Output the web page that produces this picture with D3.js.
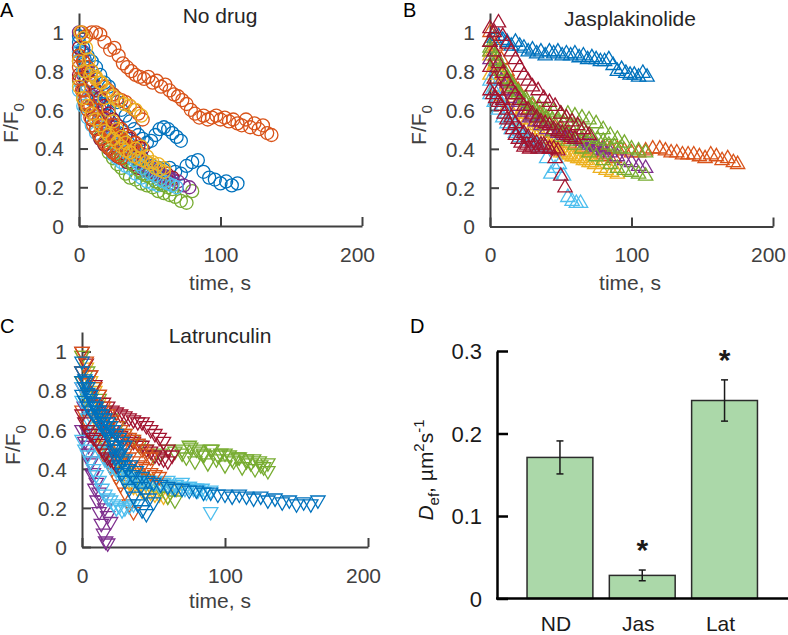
<!DOCTYPE html>
<html>
<head>
<meta charset="utf-8">
<script src="https://cdn.jsdelivr.net/npm/d3@7"></script>
<style>
body { margin: 0; background: #fff; }
text { font-family: "Liberation Sans", Arial, sans-serif; }
</style>
</head>
<body>
<script>
// matlab default line colours
var blue = "#0072BD", orange = "#D95319", yellow = "#EDB120", purple = "#7E2F8E",
    green = "#77AC30", ltblue = "#4DBEEE", red = "#A2142F";

var timeTicks = [0, 100, 200];
var ratioTicks = [0, 0.2, 0.4, 0.6, 0.8, 1];

// ---------- A : no drug ----------
var ndBlueT1 = [0,4,8,12,16,20,24,28,32,36,40,44,48,52,56,60,64,68,72,76,80,84,88,92,96,100,104,108,112];
var ndBlueV1 = [0.9,0.82,0.75,0.68,0.62,0.57,0.52,0.48,0.44,0.41,0.38,0.36,0.33,0.31,0.3,0.29,0.3,0.28,0.27,0.31,0.33,0.34,0.28,0.25,0.24,0.22,0.23,0.21,0.22];
var ndBlueT2 = [0,3,6,9,12,15,18,21,24,27,30,33,36,39,42,45,48,51,54,57,60,63,66,69,72];
var ndBlueV2 = [0.98,0.92,0.88,0.85,0.82,0.78,0.74,0.72,0.68,0.64,0.6,0.57,0.54,0.5,0.47,0.45,0.43,0.44,0.47,0.5,0.51,0.5,0.48,0.46,0.44];
var ndBlueT3 = [0,2,4,6,8,10,12,14,16,18,20,22,24,26,28,30,33,36,39,42,45,48,51,54,57,60];
var ndBlueV3 = [0.95,0.9,0.86,0.82,0.78,0.74,0.7,0.66,0.63,0.6,0.57,0.54,0.51,0.48,0.46,0.44,0.41,0.38,0.36,0.34,0.32,0.3,0.29,0.28,0.27,0.26];
var ndGreenT1 = [0,3,6,9,12,15,18,21,24,27,30,33,36,40,44,48,52,56,60,64,68,72,76,80];
var ndGreenV1 = [0.75,0.66,0.6,0.55,0.5,0.46,0.42,0.38,0.35,0.32,0.3,0.27,0.25,0.24,0.22,0.21,0.2,0.18,0.17,0.16,0.15,0.13,0.12,0.18];
var ndGreenT2 = [0,3,6,9,12,15,18,21,24,27,30,33,36,39,42,45,48,51,54,57,60,63,66];
var ndGreenV2 = [0.88,0.8,0.72,0.66,0.6,0.55,0.5,0.46,0.43,0.4,0.37,0.35,0.33,0.31,0.29,0.27,0.26,0.25,0.23,0.22,0.21,0.2,0.19];
var ndLtblueT1 = [0,3,6,9,12,15,18,21,24,27,30,33,36,40,44,48,52,56];
var ndLtblueV1 = [0.7,0.62,0.56,0.52,0.48,0.45,0.42,0.4,0.37,0.35,0.33,0.31,0.3,0.27,0.25,0.23,0.22,0.21];
var ndLtblueT2 = [0,3,6,9,12,15,18,21,24,27,30,33,36,39,42,45,48,51,54,57,60,63,66,69];
var ndLtblueV2 = [0.9,0.8,0.72,0.65,0.6,0.55,0.51,0.48,0.45,0.42,0.4,0.38,0.36,0.34,0.32,0.3,0.28,0.27,0.26,0.24,0.23,0.22,0.21,0.2];
var ndPurpleT1 = [0,3,6,9,12,15,18,21,24,27,30,34,38,42,46,50,54,58,62,66,70,74,78];
var ndPurpleV1 = [1.0,0.9,0.8,0.72,0.65,0.6,0.55,0.5,0.46,0.44,0.42,0.4,0.36,0.33,0.3,0.28,0.26,0.25,0.24,0.22,0.23,0.21,0.2];
var ndPurpleT2 = [0,3,6,9,12,15,18,21,24,27,30,33,36,39,42,45,48,51,54,57,60,63,66];
var ndPurpleV2 = [0.85,0.78,0.72,0.67,0.62,0.58,0.55,0.52,0.49,0.46,0.43,0.41,0.39,0.37,0.35,0.33,0.31,0.3,0.28,0.27,0.26,0.25,0.24];
var ndRedT1 = [0,3,6,9,12,15,18,21,24,27,30,34,38,42,46,50,54,58,62,66];
var ndRedV1 = [0.78,0.7,0.62,0.55,0.5,0.45,0.42,0.4,0.38,0.36,0.35,0.33,0.32,0.3,0.29,0.28,0.27,0.26,0.27,0.25];
var ndRedT2 = [0,3,6,9,12,15,18,21,24,27,30,33,36,39,42,45];
var ndRedV2 = [0.92,0.85,0.79,0.74,0.7,0.66,0.62,0.58,0.55,0.52,0.5,0.47,0.45,0.43,0.41,0.4];
var ndOrangeT1 = [2,5,9,12,15,18,22,25,28,31,34,37,40,43,46,49,52,55,58,61,64,67,70,73,76,79,82,85,88,91,94,97,100,103,106,109,112,115,118,121,124,127,130,133,136];
var ndOrangeV1 = [1.0,0.98,1.0,1.0,0.99,0.95,0.91,0.92,0.88,0.84,0.82,0.8,0.78,0.77,0.76,0.77,0.74,0.75,0.72,0.73,0.7,0.68,0.67,0.65,0.63,0.6,0.58,0.56,0.57,0.55,0.56,0.57,0.55,0.56,0.54,0.55,0.53,0.52,0.55,0.51,0.53,0.5,0.52,0.48,0.47];
var ndOrangeT2 = [0,2,4,6,8,10,12,14,16,18,20,22,24,26,28,30,32,34,36,38,40,42];
var ndOrangeV2 = [0.82,0.76,0.7,0.66,0.62,0.58,0.6,0.55,0.52,0.56,0.5,0.48,0.52,0.47,0.45,0.5,0.44,0.42,0.46,0.4,0.43,0.38];
var ndOrangeT3 = [0,3,6,9,12,15,18,21,24,27,30,33,36,39,42,45];
var ndOrangeV3 = [0.88,0.85,0.82,0.8,0.76,0.74,0.72,0.7,0.68,0.66,0.65,0.64,0.62,0.6,0.58,0.55];
var ndOrangeT4 = [0,2,4,6,8,10,12,14,16,18,20,22,24,26,28,30];
var ndOrangeV4 = [0.76,0.7,0.64,0.6,0.56,0.52,0.5,0.47,0.45,0.43,0.41,0.4,0.38,0.37,0.36,0.35];
var ndYellowT1 = [1,3,5,7,9,12,15,18,21,24,27,30,33,36,40,44,48,52,56,60];
var ndYellowV1 = [1.0,0.97,0.92,0.86,0.8,0.77,0.74,0.66,0.6,0.54,0.5,0.46,0.43,0.38,0.4,0.41,0.36,0.33,0.32,0.3];
var ndYellowT2 = [0,4,8,12,16,20,24,28,32,36,40,44];
var ndYellowV2 = [0.85,0.8,0.78,0.76,0.74,0.7,0.67,0.65,0.63,0.62,0.6,0.57];
var ndYellowT3 = [0,3,6,9,12,15,18,21,24,27,30,33,36,39,42,45,48,51,54,57,60];
var ndYellowV3 = [0.72,0.66,0.62,0.58,0.55,0.52,0.49,0.47,0.45,0.43,0.41,0.39,0.38,0.36,0.35,0.34,0.33,0.32,0.3,0.29,0.28];

// ---------- B : jasplakinolide ----------
var jasBlueT = [3,6,9,12,15,18,21,24,27,30,33,36,39,42,45,48,51,54,57,60,63,66,69,72,75,78,81,84,87,90,93,96,99,102,105,108,111];
var jasBlueV = [0.97,0.98,0.96,0.95,0.93,0.95,0.93,0.92,0.9,0.91,0.89,0.9,0.88,0.9,0.89,0.9,0.88,0.89,0.88,0.89,0.87,0.88,0.86,0.87,0.86,0.85,0.85,0.86,0.83,0.8,0.81,0.79,0.78,0.78,0.77,0.79,0.77];
var jasOrangeT1 = [0,4,8,12,16,20,25,30,35,40,45,50,55,60,65,70,75,80,85,90,95,100,105,110,115,120,124,128,132,136,140,144,148,152,156,160,164,168,172,175];
var jasOrangeV1 = [1.0,0.93,0.86,0.8,0.74,0.7,0.66,0.62,0.58,0.55,0.52,0.5,0.48,0.46,0.45,0.44,0.42,0.41,0.4,0.4,0.39,0.38,0.38,0.39,0.4,0.4,0.39,0.38,0.38,0.37,0.37,0.37,0.36,0.35,0.37,0.36,0.34,0.35,0.33,0.32];
var jasOrangeT2 = [0,4,8,12,16,20,24,28,32,36,40,44,48,52,56,60,64,68,72,76,80,84,88];
var jasOrangeV2 = [0.9,0.84,0.78,0.73,0.68,0.64,0.6,0.57,0.54,0.52,0.5,0.48,0.46,0.45,0.43,0.42,0.41,0.4,0.39,0.38,0.37,0.36,0.35];
var jasYellowT1 = [0,3,6,9,12,15,18,21,24,27,30,34,38,42,46,50,54,58,62,66,70,74,78,82,86,90];
var jasYellowV1 = [0.88,0.83,0.8,0.75,0.7,0.66,0.62,0.58,0.55,0.52,0.5,0.47,0.45,0.42,0.4,0.38,0.37,0.36,0.35,0.34,0.33,0.32,0.3,0.29,0.28,0.27];
var jasYellowT2 = [0,4,8,12,16,20,24,28,32,36,40,44,48,52,56,60,64,68,72];
var jasYellowV2 = [0.78,0.72,0.67,0.62,0.58,0.55,0.52,0.49,0.47,0.45,0.43,0.41,0.4,0.38,0.37,0.36,0.35,0.34,0.33];
var jasPurpleT1 = [0,4,8,12,16,20,25,30,35,40,45,50,55,60,65,70,75,80,85,90,95,100,105,110];
var jasPurpleV1 = [0.95,0.88,0.8,0.74,0.68,0.64,0.6,0.57,0.54,0.52,0.5,0.48,0.46,0.45,0.44,0.42,0.41,0.39,0.38,0.36,0.34,0.33,0.31,0.3];
var jasPurpleT2 = [0,4,8,12,16,20,24,28,32,36,40,44,48,52,56,60,64,68,72,76,80];
var jasPurpleV2 = [0.86,0.8,0.75,0.7,0.66,0.62,0.59,0.56,0.54,0.52,0.5,0.49,0.48,0.47,0.46,0.45,0.44,0.43,0.42,0.41,0.4];
var jasGreenT1 = [0,4,8,12,16,20,25,30,35,40,45,50,55,60,65,70,75,80,85,90,95,100,105,110];
var jasGreenV1 = [0.9,0.85,0.8,0.76,0.72,0.69,0.66,0.63,0.61,0.6,0.59,0.58,0.58,0.57,0.56,0.55,0.53,0.5,0.47,0.45,0.43,0.4,0.39,0.38];
var jasGreenT2 = [0,5,10,15,20,25,30,35,40,45,50,55,60,65,70,75,80,85,90,95,100,105,110];
var jasGreenV2 = [0.92,0.86,0.8,0.74,0.69,0.64,0.6,0.56,0.52,0.49,0.46,0.44,0.42,0.4,0.38,0.36,0.34,0.32,0.3,0.29,0.28,0.27,0.26];
var jasGreenT3 = [0,4,8,12,16,20,24,28,32,36,40,44,48,52,56,60,64,68,72,76,80,84,88,92];
var jasGreenV3 = [0.95,0.88,0.82,0.76,0.72,0.68,0.65,0.62,0.6,0.58,0.56,0.55,0.54,0.53,0.52,0.5,0.49,0.48,0.46,0.45,0.44,0.42,0.41,0.4];
var jasLtblueT1 = [0,3,6,9,12,15,18,21,24,27,30,33,36,40,43,46,49,52,55,58,61,64];
var jasLtblueV1 = [0.75,0.7,0.66,0.62,0.58,0.55,0.52,0.49,0.47,0.45,0.43,0.41,0.4,0.35,0.27,0.3,0.32,0.26,0.15,0.13,0.12,0.12];
var jasLtblueT2 = [0,3,6,9,12,15,18,21,24,27,30,33,36,39];
var jasLtblueV2 = [0.68,0.64,0.6,0.56,0.53,0.5,0.48,0.46,0.45,0.44,0.43,0.42,0.42,0.41];
var jasRedT1 = [0,3,6,9,12,15,18,21,24,27,30,34,38,42,46,50,54,58,62,66,70];
var jasRedV1 = [1.02,1.0,1.05,0.98,0.94,0.9,0.86,0.82,0.78,0.75,0.72,0.7,0.66,0.64,0.62,0.58,0.56,0.54,0.52,0.5,0.47];
var jasRedT2 = [0,2,4,6,8,10,12,14,16,18,20,22,24,26,28,30,34,38,42,46,50,53];
var jasRedV2 = [0.7,0.68,0.66,0.64,0.62,0.58,0.55,0.52,0.5,0.47,0.45,0.43,0.41,0.42,0.4,0.41,0.4,0.42,0.4,0.35,0.26,0.2];
var jasRedT3 = [0,3,6,9,12,15,18,21,24,27,30,33,36,39,42,45,48,51,54,57,60];
var jasRedV3 = [0.95,0.9,0.84,0.79,0.75,0.71,0.68,0.65,0.62,0.6,0.58,0.56,0.54,0.53,0.52,0.5,0.49,0.48,0.47,0.46,0.45];
var jasRedT4 = [0,3,6,9,12,15,18,21,24,27,30,33,36,39,42,45,48];
var jasRedV4 = [0.82,0.76,0.7,0.65,0.6,0.56,0.53,0.5,0.48,0.46,0.44,0.43,0.42,0.41,0.4,0.4,0.39];

// ---------- C : latrunculin ----------
var latBlueT1 = [0,3,6,9,12,15,18,21,24,27,30,34,38,42,46,50,55,60,65,70,75,80,85,90,95,100,105,110,115,120,125,130,135,140,145,150,155,160,165];
var latBlueV1 = [0.95,0.85,0.78,0.72,0.68,0.64,0.6,0.56,0.52,0.48,0.45,0.42,0.39,0.36,0.34,0.33,0.32,0.31,0.3,0.3,0.29,0.29,0.28,0.28,0.27,0.27,0.26,0.27,0.26,0.25,0.26,0.24,0.25,0.23,0.24,0.22,0.23,0.22,0.24];
var latBlueT2 = [0,2,4,6,8,10,12,14,16,18,20,22,24,26,28,30,33,36,39,42,45];
var latBlueV2 = [0.9,0.86,0.82,0.78,0.74,0.7,0.68,0.66,0.62,0.58,0.55,0.5,0.46,0.42,0.38,0.34,0.3,0.26,0.22,0.19,0.17];
var latBlueT3 = [0,2,4,6,8,10,12,14,16,18,20,22,24,26,28,30];
var latBlueV3 = [0.85,0.82,0.79,0.76,0.74,0.72,0.7,0.68,0.66,0.64,0.62,0.6,0.58,0.56,0.54,0.52];
var latBlueT4 = [0,2,4,6,8,10,12,14,16,18,20,22,24,26,28,30,32,35,38,41,44,47,50];
var latBlueV4 = [0.78,0.75,0.72,0.7,0.68,0.66,0.64,0.62,0.6,0.58,0.55,0.52,0.5,0.47,0.44,0.42,0.4,0.37,0.34,0.31,0.28,0.25,0.23];
var latOrangeT1 = [0,3,6,9,12,15,18,21,24,27,30,33,36,39,42,45,48];
var latOrangeV1 = [1.0,0.95,0.88,0.82,0.78,0.72,0.68,0.65,0.62,0.6,0.58,0.56,0.55,0.53,0.5,0.48,0.46];
var latOrangeT2 = [0,3,6,9,12,15,18,21,24,27,30,33,36];
var latOrangeV2 = [0.7,0.65,0.6,0.56,0.52,0.48,0.44,0.4,0.36,0.32,0.28,0.22,0.18];
var latOrangeT3 = [0,3,6,9,12,15,18,21,24,27,30,33,36,39,42,45,48,51,54];
var latOrangeV3 = [0.9,0.84,0.78,0.72,0.67,0.62,0.58,0.55,0.52,0.5,0.48,0.46,0.44,0.42,0.41,0.4,0.38,0.37,0.36];
var latYellowT1 = [0,3,6,9,12,15,18,21,24,27,30,33,36,39,42,45,48,51,54,57,60,63,66];
var latYellowV1 = [0.98,0.92,0.85,0.8,0.74,0.68,0.62,0.56,0.5,0.45,0.42,0.4,0.38,0.37,0.36,0.35,0.34,0.33,0.32,0.33,0.3,0.31,0.3];
var latYellowT2 = [0,3,6,9,12,15,18,21,24,27,30,33,36,39,42,45,48,51,54,57,60];
var latYellowV2 = [0.85,0.78,0.72,0.66,0.6,0.54,0.49,0.45,0.41,0.38,0.35,0.33,0.31,0.3,0.29,0.28,0.28,0.27,0.27,0.26,0.26];
var latPurpleT1 = [0,1.5,3,4.5,6,7.5,9,10.5,12,13.5,15,16.5,18];
var latPurpleV1 = [0.82,0.72,0.6,0.52,0.44,0.37,0.3,0.24,0.18,0.12,0.07,0.03,0.02];
var latPurpleT2 = [0,2,4,6,8,10,12,14,16,18,20];
var latPurpleV2 = [0.6,0.54,0.48,0.43,0.38,0.33,0.28,0.24,0.2,0.16,0.13];
var latGreenT1 = [0,4,8,12,16,20,25,30,35,40,45,50,55,60,65,70,75,80,85,90,95,100,105,110,115,120,125,130];
var latGreenV1 = [0.98,0.9,0.82,0.76,0.7,0.66,0.62,0.58,0.55,0.52,0.5,0.47,0.48,0.5,0.49,0.5,0.52,0.5,0.48,0.5,0.47,0.48,0.45,0.46,0.44,0.45,0.42,0.43];
var latGreenT2 = [0,4,8,12,16,20,25,30,35,40,45,50,55,60,65];
var latGreenV2 = [0.85,0.76,0.68,0.6,0.54,0.48,0.44,0.4,0.37,0.35,0.33,0.32,0.3,0.26,0.24];
var latGreenT3 = [70,73,76,79,82,85,88,91,94,97,100,103,106,109,112,115,118,121,124,127,130];
var latGreenV3 = [0.48,0.46,0.51,0.44,0.49,0.47,0.43,0.5,0.45,0.48,0.42,0.47,0.44,0.46,0.41,0.45,0.43,0.4,0.44,0.41,0.39];
var latLtblueT1 = [0,4,8,12,16,20,25,30,35,40,45,50,55,60,65,70,75,80,85,90];
var latLtblueV1 = [0.75,0.66,0.58,0.5,0.45,0.41,0.38,0.36,0.35,0.34,0.34,0.33,0.33,0.34,0.32,0.33,0.31,0.3,0.28,0.18];
var latLtblueT2 = [0,2,4,6,8,10,12,14,16,18,20,22,24,26,28,30,33,36];
var latLtblueV2 = [0.55,0.5,0.47,0.44,0.4,0.37,0.34,0.3,0.27,0.25,0.24,0.22,0.2,0.21,0.19,0.2,0.21,0.22];
var latLtblueT3 = [0,3,6,9,12,15,18,21,24,27,30,33,36,39,42,45,48,51,54,57,60,63,66,69,72,75,78,81,84,87,90];
var latLtblueV3 = [0.82,0.74,0.67,0.6,0.54,0.49,0.45,0.42,0.4,0.38,0.36,0.35,0.35,0.34,0.34,0.33,0.34,0.33,0.32,0.33,0.32,0.31,0.32,0.31,0.3,0.31,0.3,0.29,0.3,0.28,0.29];
var latRedT1 = [0,3,6,9,12,15,18,21,24,27,30,33,36,39,42,45,48,51,54,57,60,63];
var latRedV1 = [1.0,0.94,0.88,0.83,0.78,0.74,0.72,0.7,0.69,0.68,0.67,0.66,0.65,0.64,0.64,0.62,0.6,0.58,0.56,0.54,0.5,0.47];
var latRedT2 = [0,2,4,6,8,10,12,14,16,18,20,22,24];
var latRedV2 = [0.68,0.64,0.6,0.58,0.56,0.55,0.53,0.5,0.48,0.46,0.45,0.44,0.42];
var latRedT3 = [0,3,6,9,12,15,18,21,24,27,30,33,36,39,42,45,48,51,54,57,60];
var latRedV3 = [0.9,0.84,0.78,0.73,0.68,0.64,0.62,0.6,0.58,0.57,0.56,0.55,0.54,0.53,0.52,0.5,0.49,0.47,0.46,0.45,0.44];

// ---------- D : effective diffusion ----------
var drugNames = ["ND", "Jas", "Lat"];
var dEff = [0.171, 0.028, 0.24];
var dErr = [0.02, 0.0065, 0.025];
var signif = [false, true, true];
var dTicks = [0, 0.1, 0.2, 0.3];

var svg = d3.select("body").append("svg")
    .attr("width", 788).attr("height", 635)
    .style("background", "#fff");

var axisGrey = "#404040";

function styleAxis(g, col, w)
{
    g.select(".domain").attr("stroke", col).attr("stroke-width", w);
    g.selectAll(".tick line").attr("stroke", col).attr("stroke-width", w);
    g.selectAll(".tick text").attr("fill", col).style("font-size", "21px")
        .style("font-family", '"Liberation Sans", Arial, sans-serif');
}

var scatterPanel = function(p, series, marker)
{
    var x = d3.scaleLinear().domain([0, 200]).range([p.x0, p.x1]);
    var y = d3.scaleLinear().domain([0, 1.1]).range([p.y0, p.y1]);

    // axes first, markers sit over them like matlab
    var xg = svg.append("g")
        .attr("transform", "translate(0," + p.y0 + ")")
        .call(d3.axisBottom(x).tickValues(timeTicks).tickSizeInner(-9).tickSizeOuter(0).tickPadding(21));
    styleAxis(xg, axisGrey, 2);
    // last label sits a bit inside the axis end
    xg.selectAll(".tick text").attr("dx", function(d) { return d == 200 ? -5 : 0; });

    var yg = svg.append("g")
        .attr("transform", "translate(" + p.x0 + ",0)")
        .call(d3.axisLeft(y).tickValues(ratioTicks).tickFormat(d3.format("~g"))
              .tickSizeInner(-9).tickSizeOuter(0).tickPadding(15));
    styleAxis(yg, axisGrey, 2);
    yg.selectAll(".tick text").attr("dy", "0.35em");

    var sym = d3.symbol().type(d3.symbolTriangle).size(88);

    series.forEach(function(s)
    {
        var pts = d3.zip(s.t, s.v);
        var sel = svg.append("g").selectAll("x").data(pts).enter();
        if (marker == "o")
        {
            sel.append("circle")
                .attr("cx", function(d) { return x(d[0]); })
                .attr("cy", function(d) { return y(d[1]); })
                .attr("r", 6.5)
                .attr("fill", "none")
                .attr("stroke", s.c)
                .attr("stroke-width", 1.3);
        }
        else
        {
            sel.append("path")
                .attr("d", sym)
                .attr("transform", function(d)
                {
                    return "translate(" + x(d[0]) + "," + y(d[1]) + ")" + (marker == "v" ? " rotate(180)" : "");
                })
                .attr("fill", "none")
                .attr("stroke", s.c)
                .attr("stroke-width", 1.3);
        }
    });

    svg.append("text").attr("x", p.titleX).attr("y", p.titleY)
        .attr("text-anchor", "middle").attr("fill", "#262626")
        .style("font-size", "21px").text(p.title);

    svg.append("text").attr("x", p.titleX).attr("y", p.xlabY)
        .attr("text-anchor", "middle").attr("fill", axisGrey)
        .style("font-size", "21px").text("time, s");

    var yl = svg.append("text")
        .attr("transform", "translate(" + p.ylabX + "," + p.ylabY + ") rotate(-90)")
        .attr("text-anchor", "middle").attr("fill", axisGrey)
        .style("font-size", "21px");
    yl.append("tspan").text("F/F");
    yl.append("tspan").attr("dy", 6).style("font-size", "15px").text("0");

    svg.append("text").attr("x", p.letterX).attr("y", p.letterY)
        .attr("fill", "#000").style("font-size", "20px").text(p.letter);
}

scatterPanel(
    {x0: 79, x1: 362, y0: 226, y1: 13, title: "No drug", titleX: 220, titleY: 23,
     xlabY: 290, ylabX: 18, ylabY: 123, letter: "A", letterX: 0, letterY: 17},
    [ {c: blue, t: ndBlueT1, v: ndBlueV1}, {c: blue, t: ndBlueT2, v: ndBlueV2},
      {c: green, t: ndGreenT1, v: ndGreenV1}, {c: ltblue, t: ndLtblueT1, v: ndLtblueV1},
      {c: purple, t: ndPurpleT1, v: ndPurpleV1}, {c: red, t: ndRedT1, v: ndRedV1},
      {c: blue, t: ndBlueT3, v: ndBlueV3}, {c: green, t: ndGreenT2, v: ndGreenV2},
      {c: purple, t: ndPurpleT2, v: ndPurpleV2}, {c: ltblue, t: ndLtblueT2, v: ndLtblueV2},
      {c: red, t: ndRedT2, v: ndRedV2},
      {c: orange, t: ndOrangeT2, v: ndOrangeV2}, {c: orange, t: ndOrangeT3, v: ndOrangeV3},
      {c: orange, t: ndOrangeT4, v: ndOrangeV4}, {c: orange, t: ndOrangeT1, v: ndOrangeV1},
      {c: yellow, t: ndYellowT3, v: ndYellowV3},
      {c: yellow, t: ndYellowT2, v: ndYellowV2}, {c: yellow, t: ndYellowT1, v: ndYellowV1} ],
    "o");

scatterPanel(
    {x0: 490, x1: 773, y0: 226.5, y1: 13, title: "Jasplakinolide", titleX: 630, titleY: 26,
     xlabY: 290, ylabX: 426, ylabY: 125, letter: "B", letterX: 403, letterY: 17},
    [ {c: blue, t: jasBlueT, v: jasBlueV}, {c: orange, t: jasOrangeT1, v: jasOrangeV1},
      {c: orange, t: jasOrangeT2, v: jasOrangeV2},
      {c: yellow, t: jasYellowT1, v: jasYellowV1}, {c: yellow, t: jasYellowT2, v: jasYellowV2},
      {c: purple, t: jasPurpleT1, v: jasPurpleV1}, {c: purple, t: jasPurpleT2, v: jasPurpleV2},
      {c: green, t: jasGreenT1, v: jasGreenV1}, {c: green, t: jasGreenT2, v: jasGreenV2},
      {c: green, t: jasGreenT3, v: jasGreenV3},
      {c: ltblue, t: jasLtblueT1, v: jasLtblueV1}, {c: ltblue, t: jasLtblueT2, v: jasLtblueV2},
      {c: red, t: jasRedT4, v: jasRedV4}, {c: red, t: jasRedT2, v: jasRedV2},
      {c: red, t: jasRedT3, v: jasRedV3}, {c: red, t: jasRedT1, v: jasRedV1} ],
    "^");

scatterPanel(
    {x0: 82, x1: 368, y0: 547, y1: 332, title: "Latrunculin", titleX: 220, titleY: 343,
     xlabY: 608, ylabX: 20, ylabY: 445, letter: "C", letterX: 0, letterY: 333},
    [ {c: orange, t: latOrangeT2, v: latOrangeV2},
      {c: yellow, t: latYellowT1, v: latYellowV1}, {c: yellow, t: latYellowT2, v: latYellowV2},
      {c: purple, t: latPurpleT1, v: latPurpleV1}, {c: purple, t: latPurpleT2, v: latPurpleV2},
      {c: green, t: latGreenT1, v: latGreenV1}, {c: green, t: latGreenT2, v: latGreenV2},
      {c: green, t: latGreenT3, v: latGreenV3},
      {c: ltblue, t: latLtblueT1, v: latLtblueV1}, {c: ltblue, t: latLtblueT2, v: latLtblueV2},
      {c: ltblue, t: latLtblueT3, v: latLtblueV3},
      {c: red, t: latRedT2, v: latRedV2}, {c: red, t: latRedT3, v: latRedV3},
      {c: red, t: latRedT1, v: latRedV1},
      {c: orange, t: latOrangeT3, v: latOrangeV3}, {c: orange, t: latOrangeT1, v: latOrangeV1},
      {c: blue, t: latBlueT4, v: latBlueV4}, {c: blue, t: latBlueT3, v: latBlueV3},
      {c: blue, t: latBlueT2, v: latBlueV2}, {c: blue, t: latBlueT1, v: latBlueV1} ],
    "v");

// ---------- bar panel D ----------
var drawBars = function()
{
    var x = d3.scaleBand().domain(drugNames).range([497, 787.5])
        .paddingInner(0.2).paddingOuter(0.365);
    var y = d3.scaleLinear().domain([0, 0.3]).range([598.5, 351]);

    var bars = svg.append("g");
    bars.selectAll("rect").data(dEff).enter().append("rect")
        .attr("x", function(d, i) { return x(drugNames[i]); })
        .attr("y", function(d) { return y(d); })
        .attr("width", x.bandwidth())
        .attr("height", function(d) { return y(0) - y(d); })
        .attr("fill", "#abd8a9")
        .attr("stroke", "#2b2b2b")
        .attr("stroke-width", 1.5);

    var eb = svg.append("g").attr("stroke", "#1a1a1a").attr("stroke-width", 1.5);
    dEff.forEach(function(d, i)
    {
        var cx = x(drugNames[i]) + x.bandwidth() / 2;
        eb.append("line").attr("x1", cx).attr("x2", cx)
            .attr("y1", y(d - dErr[i])).attr("y2", y(d + dErr[i]));
        [d - dErr[i], d + dErr[i]].forEach(function(e)
        {
            eb.append("line").attr("x1", cx - 3.5).attr("x2", cx + 3.5)
                .attr("y1", y(e)).attr("y2", y(e));
        });
        if (signif[i])
        {
            svg.append("text").attr("x", cx).attr("y", y(d + dErr[i]) - 10)
                .attr("text-anchor", "middle").style("font-size", "30px")
                .style("font-weight", "bold").attr("fill", "#1a1a1a").text("*");
        }
    });

    var yg = svg.append("g").attr("transform", "translate(497,0)")
        .call(d3.axisLeft(y).tickValues(dTicks).tickFormat(d3.format("~g"))
              .tickSizeInner(-11).tickSizeOuter(0).tickPadding(15));
    styleAxis(yg, "#000", 2.5);
    yg.selectAll(".tick text").attr("fill", "#1a1a1a").style("font-size", "22px").attr("dy", "0.35em");

    svg.append("line").attr("x1", 496).attr("x2", 788)
        .attr("y1", y(0)).attr("y2", y(0))
        .attr("stroke", "#000").attr("stroke-width", 2.5);

    svg.append("g").selectAll("text").data(drugNames).enter().append("text")
        .attr("x", function(d) { return x(d) + x.bandwidth() / 2 - 4; })
        .attr("y", 631)
        .attr("text-anchor", "middle").attr("fill", "#1a1a1a")
        .style("font-size", "21px").text(function(d) { return d; });

    var yl = svg.append("text")
        .attr("transform", "translate(433,470) rotate(-90)")
        .attr("text-anchor", "middle").attr("fill", "#1a1a1a")
        .style("font-size", "21px");
    yl.append("tspan").style("font-style", "italic").text("D");
    yl.append("tspan").attr("dy", 6).style("font-size", "15px").text("ef");
    yl.append("tspan").attr("dy", -6).text(", \u00b5m");
    yl.append("tspan").attr("dy", -9).style("font-size", "15px").text("2");
    yl.append("tspan").attr("dy", 9).text("s");
    yl.append("tspan").attr("dy", -9).style("font-size", "15px").text("-1");

    svg.append("text").attr("x", 410).attr("y", 333)
        .attr("fill", "#000").style("font-size", "20px").text("D");
}

drawBars();
</script>
</body>
</html>
